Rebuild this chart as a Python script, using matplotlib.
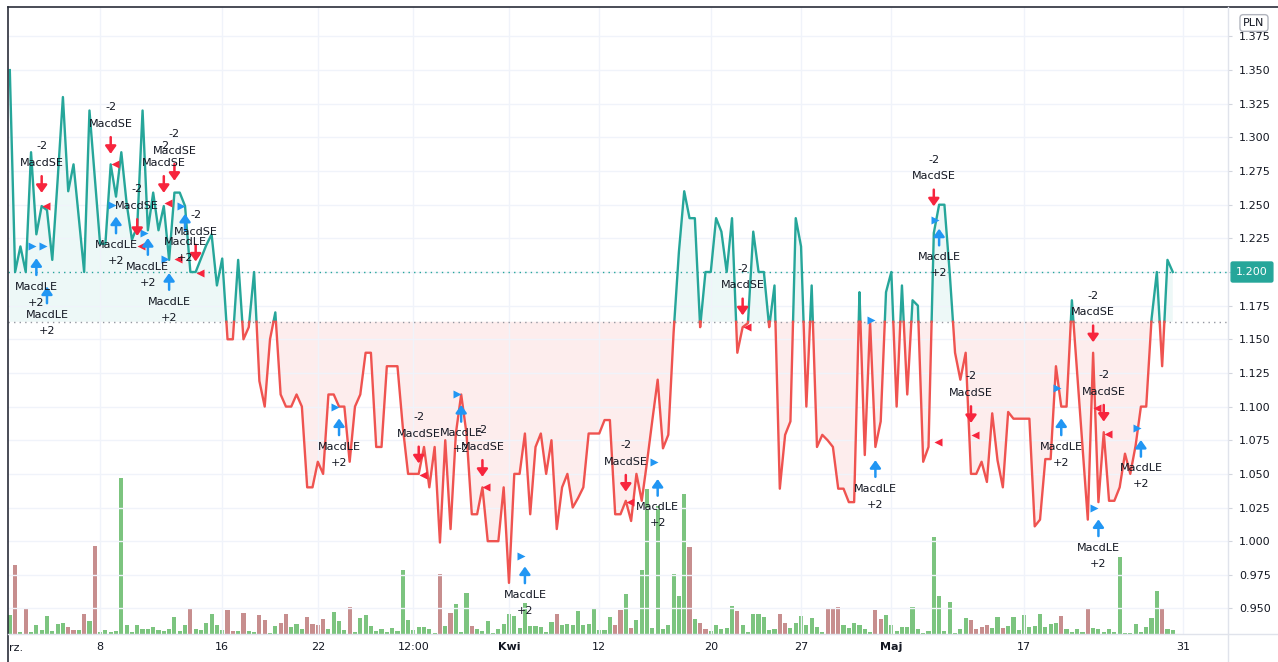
import numpy as np
import matplotlib.pyplot as plt
from matplotlib.transforms import offset_copy
from matplotlib.lines import Line2D

# Kurs (PLN), ein Wert pro Balken
price = [
    1.350, 1.200, 1.219, 1.200, 1.289, 1.228, 1.249, 1.246, 1.209, 1.268,
    1.330, 1.260, 1.280, 1.240, 1.200, 1.320, 1.271, 1.221, 1.221, 1.280,
    1.256, 1.289, 1.251, 1.224, 1.234, 1.320, 1.231, 1.259, 1.231, 1.249,
    1.209, 1.259, 1.259, 1.249, 1.200, 1.200, 1.210, 1.220, 1.228, 1.190,
    1.210, 1.150, 1.150, 1.209, 1.150, 1.159, 1.200, 1.119, 1.100, 1.150,
    1.170, 1.109, 1.100, 1.100, 1.109, 1.100, 1.040, 1.040, 1.059, 1.050,
    1.109, 1.109, 1.100, 1.100, 1.059, 1.100, 1.109, 1.140, 1.140, 1.070,
    1.070, 1.130, 1.130, 1.130, 1.085, 1.050, 1.050, 1.050, 1.070, 1.040,
    1.070, 0.999, 1.075, 1.009, 1.080, 1.109, 1.080, 1.020, 1.020, 1.040,
    1.000, 1.000, 1.000, 1.040, 0.969, 1.050, 1.050, 1.080, 1.020, 1.070,
    1.080, 1.050, 1.075, 1.009, 1.040, 1.050, 1.025, 1.032, 1.040, 1.080,
    1.080, 1.080, 1.090, 1.090, 1.020, 1.020, 1.030, 1.015, 1.050, 1.030,
    1.059, 1.090, 1.120, 1.069, 1.079, 1.155, 1.215, 1.260, 1.240, 1.240,
    1.159, 1.200, 1.200, 1.240, 1.230, 1.200, 1.240, 1.140, 1.159, 1.162,
    1.230, 1.200, 1.200, 1.159, 1.190, 1.039, 1.079, 1.089, 1.240, 1.219,
    1.100, 1.190, 1.070, 1.079, 1.075, 1.070, 1.039, 1.039, 1.029, 1.029,
    1.185, 1.064, 1.163, 1.070, 1.089, 1.185, 1.200, 1.100, 1.190, 1.109,
    1.179, 1.175, 1.059, 1.070, 1.229, 1.250, 1.250, 1.199, 1.140, 1.120,
    1.140, 1.050, 1.050, 1.059, 1.044, 1.095, 1.060, 1.040, 1.096, 1.091,
    1.091, 1.091, 1.091, 1.011, 1.016, 1.061, 1.061, 1.130, 1.100, 1.100,
    1.179, 1.125, 1.070, 1.016, 1.140, 1.029, 1.081, 1.030, 1.030, 1.040,
    1.065, 1.050, 1.071, 1.100, 1.100, 1.165, 1.200, 1.130, 1.209, 1.200,
]

# Volumen (relative Einheiten) und Richtung g = steigend, r = fallend
volume = [
    19, 69, 2, 26, 1.3, 9, 4, 18, 3, 10,
    11, 7, 4, 4, 20, 13, 88, 2, 4, 1.3,
    3, 156, 9, 2, 9, 5, 5, 7, 4, 3,
    5, 17, 3, 9, 25, 5, 4, 11, 20, 9,
    4, 24, 3, 3, 21, 3, 2, 19, 14, 1,
    8, 11, 20, 7, 10, 5, 17, 10, 9, 15,
    5, 22, 13, 4, 27, 2, 16, 19, 8, 3,
    5, 2, 6, 3, 64, 14, 4, 7, 7, 5,
    1, 60, 8, 21, 30, 2, 41, 8, 5, 3,
    13, 1, 5, 10, 20, 18, 6, 31, 8, 8,
    7, 2, 12, 20, 9, 10, 9, 23, 9, 10,
    25, 4, 4, 17, 9, 24, 40, 6, 14, 64,
    145, 6, 128, 5, 9, 60, 38, 140, 87, 15,
    11, 5, 3, 9, 5, 6, 28, 23, 9, 1.5,
    20, 20, 17, 4, 5, 20, 11, 6, 11, 18,
    9, 16, 7, 2, 25, 25, 27, 9, 6, 11,
    9, 5, 1.5, 24, 15, 19, 9, 3, 7, 7,
    27, 5, 1, 3, 97, 38, 3, 32, 1, 5,
    16, 14, 5, 7, 9, 6, 17, 6, 8, 17,
    4, 19, 7, 8, 20, 7, 10, 11, 18, 5,
    2, 5, 2, 26, 6, 5, 2, 5, 2, 77,
    1, 1, 10, 2, 7, 16, 43, 26, 5, 4,
]
vol_dir = ("grgrgggggg" "grrgrgrggg" "gggggggggg" "ggggrggggg" "grrgrggrrg"
           "grrgggrrrr" "ggggrggggg" "gggggggggg" "grgrgggrgg" "gggggggggg"
           "gggrgggggg" "ggggrrgrgg" "ggggggggrg" "rrgggggrgg" "gggggrrggg"
           "ggggrrrggg" "gggrrggggg" "gggggggggg" "grrrrggrgg" "ggggggggrg"
           "gggrgggggg" "gggggggrgg")

baseline = 1.163

# Signale: Balken, Ausführungspreis, Pfeilposition
long_bar = [5, 7, 20, 26, 30, 33, 62, 85, 97, 122, 163, 175, 198, 205, 213]
long_fill = [1.219, 1.219, 1.250, 1.229, 1.210, 1.249, 1.100, 1.109, 0.989,
             1.059, 1.164, 1.239, 1.114, 1.025, 1.084]
long_arrow = [1.204, 1.183, 1.235, 1.219, 1.193, 1.237, 1.085, 1.095, 0.975,
              1.040, 1.054, 1.226, 1.085, 1.010, 1.069]
short_bar = [6, 19, 24, 29, 31, 35, 77, 89, 116, 138, 174, 181, 204, 206]
short_fill = [1.249, 1.280, 1.219, 1.251, 1.210, 1.199, 1.049, 1.040, 1.029,
              1.159, 1.074, 1.079, 1.099, 1.080]
short_arrow = [1.265, 1.294, 1.233, 1.265, 1.274, 1.214, 1.064, 1.054, 1.043,
               1.174, 1.255, 1.094, 1.154, 1.095]

tick_pos = [17, 40, 58, 76, 94, 111, 132, 149, 166, 191, 221]
tick_lab = ["8", "16", "22", "12:00", "Kwi", "12", "20", "27", "Maj", "17", "31"]

teal = "#26a69a"
red = "#ef5350"
blue = "#2196f3"
sred = "#f7253d"
txt = "#131722"

W, H = 1278, 662
fig = plt.figure(figsize=(W / 100, H / 100), dpi=100)
rect = [8 / W, 1 - 633.5 / H, 1220 / W, 626.5 / H]
ax = fig.add_axes(rect)
axv = ax.twinx()
ax.set_zorder(axv.get_zorder() + 1)
ax.patch.set_visible(False)

x = np.arange(len(price))
y = np.array(price)

# Volumen unten
cols = ["#7cc47f" if c == "g" else "#c78e8e" for c in vol_dir]
axv.bar(x, volume, width=0.78, color=cols, linewidth=0)
axv.set_ylim(0, 626.5)
axv.set_yticks([])
for s in axv.spines.values():
    s.set_visible(False)

# Linie an der Basislinie aufteilen
xs, ys = [x[0]], [y[0]]
for i in range(1, len(y)):
    y1, y2 = y[i - 1], y[i]
    if (y1 - baseline) * (y2 - baseline) < 0:
        xs.append(x[i - 1] + (baseline - y1) / (y2 - y1))
        ys.append(baseline)
    xs.append(x[i])
    ys.append(y2)
xs, ys = np.array(xs), np.array(ys)

ax.fill_between(xs, ys, baseline, where=ys >= baseline, interpolate=True,
                color=teal, alpha=0.08, lw=0, zorder=1)
ax.fill_between(xs, ys, baseline, where=ys <= baseline, interpolate=True,
                color=red, alpha=0.10, lw=0, zorder=1)
ax.plot(xs, np.where(ys >= baseline, ys, np.nan), color=teal, lw=1.7, zorder=3)
ax.plot(xs, np.where(ys <= baseline, ys, np.nan), color=red, lw=1.7, zorder=3)

ax.axhline(baseline, color="#9598a1", ls=(0, (1, 3)), lw=1, zorder=2)
ax.axhline(price[-1], color=teal, ls=(0, (1, 3)), lw=1, zorder=2)

# Signale
up_tip = offset_copy(ax.transData, fig=fig, y=6, units="points")
up_tail = offset_copy(ax.transData, fig=fig, y=-6, units="points")
ap = dict(arrowstyle="-|>,head_length=4.5,head_width=3.2", mutation_scale=1,
          lw=1.8, shrinkA=0, shrinkB=0)

ax.plot(np.array(long_bar) - 0.75, long_fill, ">", ms=5.5, color=blue,
        mec="none", zorder=4)
ax.plot(np.array(short_bar) + 0.75, short_fill, "<", ms=5.5, color=sred,
        mec="none", zorder=4)

for b, a in zip(long_bar, long_arrow):
    ax.annotate("", xy=(b, a), xycoords=up_tip, xytext=(b, a), textcoords=up_tail,
                arrowprops=dict(ap, color=blue), zorder=4)
    ax.annotate("MacdLE", xy=(b, a), xytext=(0, -14.5), textcoords="offset points",
                ha="center", va="center", fontsize=8, color=txt, zorder=5)
    ax.annotate("+2", xy=(b, a), xytext=(0, -26), textcoords="offset points",
                ha="center", va="center", fontsize=8, color=txt, zorder=5)

for b, a in zip(short_bar, short_arrow):
    ax.annotate("", xy=(b, a), xycoords=up_tail, xytext=(b, a), textcoords=up_tip,
                arrowprops=dict(ap, color=sred), zorder=4)
    ax.annotate("MacdSE", xy=(b, a), xytext=(0, 15.5), textcoords="offset points",
                ha="center", va="center", fontsize=8, color=txt, zorder=5)
    ax.annotate("-2", xy=(b, a), xytext=(0, 27.5), textcoords="offset points",
                ha="center", va="center", fontsize=8, color=txt, zorder=5)

# Achsen
ax.set_xlim(-0.34, 229.4)
ax.set_ylim(0.9314, 1.3969)
ax.yaxis.tick_right()
ax.set_yticks(np.arange(0.95, 1.3751, 0.025))
# der letzte Kurs steht im Preisschild statt als Tick-Beschriftung
last = price[-1]
ax.yaxis.set_major_formatter(
    plt.FuncFormatter(lambda v, p: "" if abs(v - last) < 1e-6 else f"{v:.3f}"))
ax.tick_params(axis="y", length=3, color="#d1d4dc", pad=5, labelsize=8,
               labelcolor=txt)
ax.set_xticks(tick_pos)
ax.set_xticklabels(tick_lab)
ax.tick_params(axis="x", length=0, pad=6, labelsize=8, labelcolor=txt)
for lab in ax.get_xticklabels():
    if lab.get_text() in ("Kwi", "Maj"):
        lab.set_fontweight("bold")
ax.grid(color="#f0f3fa", lw=1, zorder=0)
for s in ax.spines.values():
    s.set_visible(False)

# Preisschild letzter Kurs
ax.text(1 + 24 / 1220, last, f"{last:.3f}", transform=ax.get_yaxis_transform(),
        ha="center", va="center", fontsize=8, color="white", zorder=10, clip_on=False,
        bbox=dict(boxstyle="round,pad=0.45,rounding_size=0.15", fc=teal, ec=teal))

# Rahmen
fig.add_artist(Line2D([8 / W, 1], [1 - 7 / H] * 2, color="#2a2e39", lw=1.2))
fig.add_artist(Line2D([8 / W] * 2, [0, 1 - 7 / H], color="#2a2e39", lw=1.2))
fig.add_artist(Line2D([8 / W, 1], [1 - 633.5 / H] * 2, color="#e0e3eb", lw=1))
fig.add_artist(Line2D([1228 / W] * 2, [0, 1 - 7 / H], color="#e0e3eb", lw=1))

fig.text(1254 / W, 1 - 23 / H, "PLN", ha="center", va="center", fontsize=8, color=txt,
         bbox=dict(boxstyle="round,pad=0.3,rounding_size=0.3", fc="white", ec="#b2b5be"))
fig.text(9 / W, 1 - 648 / H, "rz.", ha="left", va="center", fontsize=8, color=txt)

fig.savefig("out.png", dpi=100)
